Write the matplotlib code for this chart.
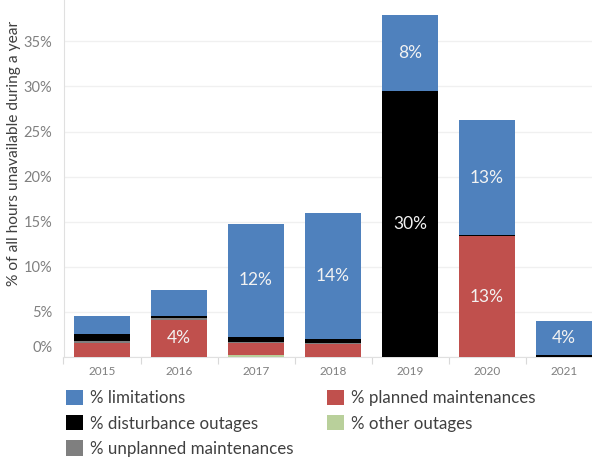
import matplotlib
matplotlib.use("Agg")
import matplotlib.pyplot as plt
import matplotlib.transforms as mtransforms
from matplotlib.patches import Patch
import numpy as np

years = ["2015", "2016", "2017", "2018", "2019", "2020", "2021"]
other_outages = [0.0, 0.0, 0.15, 0.0, 0.0, 0.0, 0.0]
planned = [1.56, 4.08, 1.34, 1.38, 0.0, 13.35, 0.0]
unplanned = [0.22, 0.19, 0.11, 0.11, 0.0, 0.0, 0.0]
disturbance = [0.78, 0.29, 0.62, 0.48, 29.52, 0.12, 0.15]
limitations = [2.0, 2.85, 12.52, 14.0, 8.45, 12.83, 3.82]

planned_labels = ["", "4%", "", "", "", "13%", ""]
disturbance_labels = ["", "", "", "", "30%", "", ""]
limitations_labels = ["", "", "12%", "14%", "8%", "13%", "4%"]

yticks = [0, 5, 10, 15, 20, 25, 30, 35]

plt.rcParams['font.family'] = ['Lato', 'DejaVu Sans']

fig = plt.figure(figsize=(5.92, 4.57), dpi=100)
ax = fig.add_axes([63.5 / 592, 1 - 356.7 / 457, 539 / 592, 356.7 / 457])

x = np.arange(len(years))
w = 0.74
series = [
    ("% other outages", other_outages, "#B9D09B", None),
    ("% planned maintenances", planned, "#C0504D", planned_labels),
    ("% unplanned maintenances", unplanned, "#7F7F7F", None),
    ("% disturbance outages", disturbance, "#000000", disturbance_labels),
    ("% limitations", limitations, "#4F81BD", limitations_labels),
]
bottom = np.zeros(len(years))
handles = {}
for name, vals, col, labs in series:
    vals = np.array(vals)
    ax.bar(x, vals, w, bottom=bottom, color=col, zorder=3, linewidth=0)
    handles[name] = Patch(facecolor=col, edgecolor='none')
    if labs:
        for xi, b, v, t in zip(x, bottom, vals, labs):
            if t:
                ax.text(xi, b + v / 2, t, ha='center', va='center',
                        color='#F2F2F2', fontsize=12.5, zorder=4)
    bottom += vals

ax.set_xlim(-0.5, len(years) - 0.5)
ax.set_ylim(0, 39.6)
ax.set_yticks(yticks)
ax.set_yticklabels([f"{t}%" for t in yticks])
ax.set_xticks(x)
ax.set_xticklabels(years)
ax.set_xticks(np.arange(-0.5, len(years)), minor=True)
ax.tick_params(axis='x', which='major', length=0, pad=7, labelsize=8.5, labelcolor='#7F7F7F')
ax.tick_params(axis='x', which='minor', length=5, color='#D9D9D9', width=0.8)
ax.tick_params(axis='y', length=0, pad=8, labelsize=10.5, labelcolor='#808080')
ax.grid(axis='y', color='#F0F0F0', linewidth=1, zorder=0)
for s in ['top', 'right']:
    ax.spines[s].set_visible(False)
for s in ['left', 'bottom']:
    ax.spines[s].set_color('#E0E0E0')
    ax.spines[s].set_linewidth(0.8)
ylab = ax.set_ylabel("% of all hours unavailable during a year", fontsize=10.5, color='#404040')
ax.yaxis.set_label_coords(-0.079, 0.570)

# 0% label sits slightly above its gridline in the reference
lab0 = ax.get_yticklabels()[0]
lab0.set_transform(lab0.get_transform() + mtransforms.ScaledTranslation(0, 0.10, fig.dpi_scale_trans))

order = ["% limitations", "% disturbance outages", "% unplanned maintenances",
         "% planned maintenances", "% other outages"]
leg = fig.legend([handles[n] for n in order], order, ncol=2, loc='upper left',
                 bbox_to_anchor=(66 / 592, 1 - 390 / 457), frameon=False,
                 fontsize=12.2, handlelength=1.0, handleheight=1.0, handletextpad=0.4,
                 columnspacing=2.0, labelspacing=0.52, borderpad=0, borderaxespad=0)
for t in leg.get_texts():
    t.set_color('#404040')

# size the axis title so its length matches the reference (~267 px)
fig.canvas.draw()
h = ylab.get_window_extent().height
ylab.set_fontsize(10.5 * 267.0 / h)

fig.savefig("out.png", dpi=100)
